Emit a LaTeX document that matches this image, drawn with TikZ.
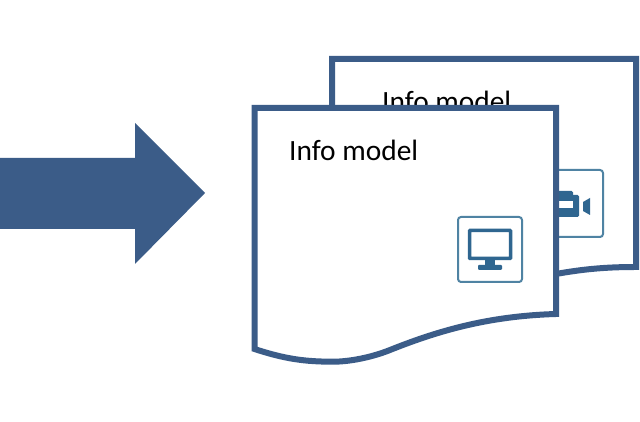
\documentclass[tikz,border=0pt]{standalone}
\usepackage{fontspec}
\setmainfont{Carlito}
\usepackage{xcolor}
\definecolor{sheetblue}{HTML}{3B5C88}
\definecolor{iconblue}{HTML}{2F6690}
\definecolor{iconedge}{HTML}{4F83A3}
\tikzset{
  sheet/.style={draw=sheetblue, line width=6pt, fill=white, miter limit=4},
  iconbox/.style={draw=iconedge, line width=2pt, fill=white, rounded corners=3pt},
  sheetlabel/.style={anchor=base west, inner sep=0pt, font=\fontsize{29.4}{30}\selectfont}
}
\begin{document}
\begin{tikzpicture}[x=1pt,y=1pt]
\useasboundingbox (0,0) rectangle (640,422);
\fill [white] (0,0) rectangle (640,422);

\fill [sheetblue] (0,193) -- (0,264) -- (135,264) -- (135,299) -- (205,229) -- (135,158) -- (135,193) -- cycle;

\draw [sheet] (332,145) -- (332,363) -- (636,363) -- (636,155) .. controls (600,155) and (575,152) .. (540,145) -- cycle;
\node [sheetlabel] (backlabel) at (382,310) {Info model};

\draw [iconbox] (539,185) rectangle (603,252);
\fill [iconblue, rounded corners=1.5pt] (545,205) rectangle (579,227);
\fill [iconblue, rounded corners=1.5pt] (545,222) rectangle (573,231);
\fill [white] (550,214) rectangle (573,221);
\fill [iconblue] (583,211) -- (590,207) -- (590,224) -- (583,220) -- cycle;

\draw [sheet] (254.5,73) -- (254.5,314) -- (556,314) -- (556,108) .. controls (490,106) and (440,92) .. (390,72) .. controls (372,64.8) and (350,60.3) .. (333,60.3) .. controls (305,60.3) and (285,63) .. (254.5,73) -- cycle;
\node [sheetlabel] (frontlabel) at (289,261) {Info model};

\draw [iconbox] (458,140) rectangle (522,205);
\draw [iconblue, line width=3.5pt, rounded corners=0.5pt] (469.5,163.5) rectangle (510.5,191.5);
\fill [iconblue] (485,155) rectangle (495,162);
\fill [iconblue, rounded corners=1pt] (478,152) rectangle (502,157);
\end{tikzpicture}
\end{document}
